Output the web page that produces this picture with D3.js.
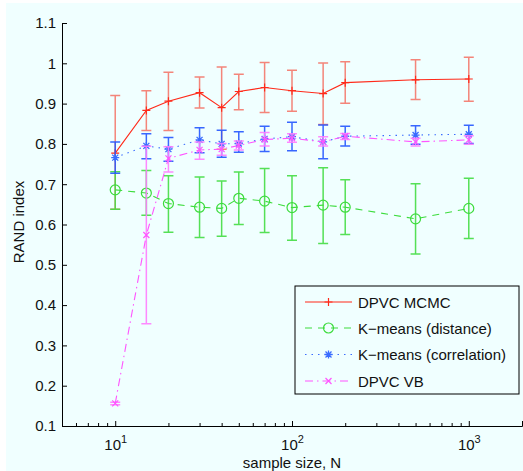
<!DOCTYPE html>
<html>
<head>
<meta charset="utf-8">
<script src="https://cdn.jsdelivr.net/npm/d3@7"></script>
<style>
  body { margin: 0; background: #fff; }
  text { font-family: "Liberation Sans", Arial, sans-serif; fill: #111; }
</style>
</head>
<body>
<div id="chart"></div>
<script>
// sample sizes (x)
const sampleSizes = [10, 15, 20, 30, 40, 50, 70, 100, 150, 200, 500, 1000];

// DPVC MCMC
const mcmcMean = [0.777, 0.883, 0.906, 0.927, 0.890, 0.930, 0.940, 0.932, 0.925, 0.952, 0.959, 0.961];
const mcmcLow  = [0.638, 0.833, 0.833, 0.889, 0.787, 0.885, 0.878, 0.881, 0.848, 0.901, 0.910, 0.906];
const mcmcHigh = [0.920, 0.932, 0.978, 0.966, 0.991, 0.973, 1.002, 0.983, 1.001, 1.004, 1.009, 1.015];

// K-means (distance)
const distMean = [0.686, 0.678, 0.652, 0.643, 0.640, 0.665, 0.658, 0.642, 0.648, 0.643, 0.614, 0.640];
const distLow  = [0.638, 0.623, 0.581, 0.568, 0.571, 0.600, 0.580, 0.561, 0.553, 0.575, 0.527, 0.565];
const distHigh = [0.731, 0.734, 0.721, 0.718, 0.708, 0.730, 0.739, 0.721, 0.741, 0.711, 0.701, 0.715];

// K-means (correlation)
const corrMean = [0.766, 0.795, 0.787, 0.810, 0.800, 0.801, 0.812, 0.818, 0.805, 0.819, 0.822, 0.824];
const corrLow  = [0.727, 0.763, 0.757, 0.778, 0.767, 0.779, 0.781, 0.783, 0.763, 0.795, 0.799, 0.801];
const corrHigh = [0.805, 0.825, 0.816, 0.840, 0.834, 0.830, 0.844, 0.854, 0.847, 0.844, 0.845, 0.846];

// DPVC VB
const vbMean = [0.156, 0.574, 0.764, 0.785, 0.787, 0.796, 0.811, 0.814, 0.805, 0.819, 0.805, 0.810];
const vbLow  = [0.153, 0.354, 0.730, 0.762, 0.772, 0.785, 0.795, 0.804, 0.795, 0.811, 0.795, 0.799];
const vbHigh = [0.159, 0.794, 0.793, 0.805, 0.801, 0.807, 0.828, 0.825, 0.818, 0.826, 0.814, 0.820];

const seriesNames = ["DPVC MCMC", "K\u2212means (distance)", "K\u2212means (correlation)", "DPVC VB"];

const xMajorTicks = [10, 100, 1000];
const yTicks = [0.1, 0.2, 0.3, 0.4, 0.5, 0.6, 0.7, 0.8, 0.9, 1.0, 1.1];

const svgWidth = 523;
const svgHeight = 471;

const svg = d3.select("#chart")
            .append("svg")
            .attr("width", svgWidth)
            .attr("height", svgHeight);

// light azure page background
svg.append("rect")
   .attr("x", 6).attr("y", 3)
   .attr("width", svgWidth - 6).attr("height", svgHeight - 3)
   .attr("fill", "#f0ffff");

const xScale = d3.scaleLog().domain([5, 2000]).range([62, 522]);
const yScale = d3.scaleLinear().domain([0.1, 1.1]).range([426, 23]);

// series styles
const styles = [
  { mean: mcmcMean, low: mcmcLow, high: mcmcHigh, line: "#ff2a1a", bar: "#f4786c", dash: null, marker: "plus" },
  { mean: distMean, low: distLow, high: distHigh, line: "#3ddc3d", bar: "#44dd44", dash: "7,6", marker: "circle" },
  { mean: corrMean, low: corrLow, high: corrHigh, line: "#3a6cff", bar: "#2356ff", dash: "1.5,5", marker: "star" },
  { mean: vbMean, low: vbLow, high: vbHigh, line: "#ff55ff", bar: "#ff7cff", dash: "8,4,1.5,4", marker: "cross" }
];

function drawMarker(g, type, cx, cy, color) {
  if (type === "plus") {
    g.append("path").attr("d", `M${cx-4},${cy}H${cx+4}M${cx},${cy-4}V${cy+4}`)
     .attr("stroke", color).attr("stroke-width", 1.2).attr("fill", "none");
  } else if (type === "circle") {
    g.append("circle").attr("cx", cx).attr("cy", cy).attr("r", 5)
     .attr("stroke", color).attr("stroke-width", 1.2).attr("fill", "none");
  } else if (type === "star") {
    g.append("path").attr("d", `M${cx-4},${cy}H${cx+4}M${cx},${cy-4}V${cy+4}M${cx-3},${cy-3}L${cx+3},${cy+3}M${cx-3},${cy+3}L${cx+3},${cy-3}`)
     .attr("stroke", color).attr("stroke-width", 1.3).attr("fill", "none");
  } else {
    g.append("path").attr("d", `M${cx-3},${cy-3}L${cx+3},${cy+3}M${cx-3},${cy+3}L${cx+3},${cy-3}`)
     .attr("stroke", color).attr("stroke-width", 1.2).attr("fill", "none");
  }
}

const lineGen = d3.line()
                  .x(d => xScale(d[0]))
                  .y(d => yScale(d[1]));

const plotGroup = svg.append("g");

styles.forEach(function(s) {
  const g = plotGroup.append("g");
  const pts = sampleSizes.map((n, i) => [n, s.mean[i]]);

  // error bars
  sampleSizes.forEach(function(n, i) {
    const cx = xScale(n);
    const y0 = yScale(s.low[i]);
    const y1 = yScale(s.high[i]);
    g.append("path")
     .attr("d", `M${cx},${y0}V${y1}M${cx-5},${y0}H${cx+5}M${cx-5},${y1}H${cx+5}`)
     .attr("stroke", s.bar)
     .attr("stroke-width", 1.5)
     .attr("stroke-opacity", 0.9)
     .attr("fill", "none");
  });

  g.append("path")
   .datum(pts)
   .attr("d", lineGen)
   .attr("fill", "none")
   .attr("stroke", s.line)
   .attr("stroke-width", 1.1)
   .attr("stroke-dasharray", s.dash);

  pts.forEach(p => drawMarker(g, s.marker, xScale(p[0]), yScale(p[1]), s.line));
});

// x axis (ticks point inward)
const minorTicks = [];
[1, 10, 100, 1000].forEach(function(dec) {
  for (let k = 1; k <= 9; k++) {
    const v = dec * k;
    if (v >= 5 && v <= 2000 && xMajorTicks.indexOf(v) < 0) minorTicks.push(v);
  }
});

const xAxis = svg.append("g")
                 .attr("transform", "translate(0, 426)")
                 .call(d3.axisBottom(xScale).tickValues(xMajorTicks).tickSize(-5).tickFormat(""));
svg.append("g")
   .attr("transform", "translate(0, 426)")
   .call(d3.axisBottom(xScale).tickValues(minorTicks).tickSize(-3).tickFormat(""))
   .select(".domain").remove();

xAxis.selectAll(".tick").each(function(d) {
  const t = d3.select(this).append("text")
              .attr("y", 24)
              .attr("text-anchor", "middle")
              .style("font-size", "15px");
  t.append("tspan").text("10");
  t.append("tspan").attr("dy", "-7").style("font-size", "11px").text(Math.round(Math.log10(d)));
});

// y axis
const yAxis = svg.append("g")
                 .attr("transform", "translate(62, 0)")
                 .call(d3.axisLeft(yScale).tickValues(yTicks).tickSize(-5)
                 .tickFormat(d => d3.format("~g")(+d.toFixed(1))));
yAxis.selectAll(".tick text")
     .attr("x", -6)
     .style("font-size", "15px")
     .style("font-family", "'Liberation Sans', Arial, sans-serif")
     .attr("fill", "#111");

[xAxis, yAxis].forEach(a => {
  a.selectAll(".domain").attr("stroke", "#000");
  a.selectAll("line").attr("stroke", "#000");
});

// axis labels
svg.append("text")
   .attr("x", 292).attr("y", 468)
   .attr("text-anchor", "middle")
   .style("font-size", "15px")
   .text("sample size, N");

svg.append("text")
   .attr("transform", "translate(24, 222) rotate(-90)")
   .attr("text-anchor", "middle")
   .style("font-size", "15px")
   .text("RAND index");

// legend
const legend = svg.append("g");
legend.append("rect")
      .attr("x", 295).attr("y", 286)
      .attr("width", 224).attr("height", 108)
      .attr("fill", "none")
      .attr("stroke", "#000")
      .attr("stroke-width", 1);

const legendY = [302, 328, 354.5, 381];
styles.forEach(function(s, i) {
  const ly = legendY[i];
  legend.append("path")
        .attr("d", `M305,${ly}H352`)
        .attr("stroke", s.line)
        .attr("stroke-width", 1.1)
        .attr("stroke-dasharray", s.dash);
  drawMarker(legend, s.marker, 328.5, ly, s.line);
  legend.append("text")
        .attr("x", 358).attr("y", ly + 5.5)
        .style("font-size", "15px")
        .text(seriesNames[i]);
});
</script>
</body>
</html>
